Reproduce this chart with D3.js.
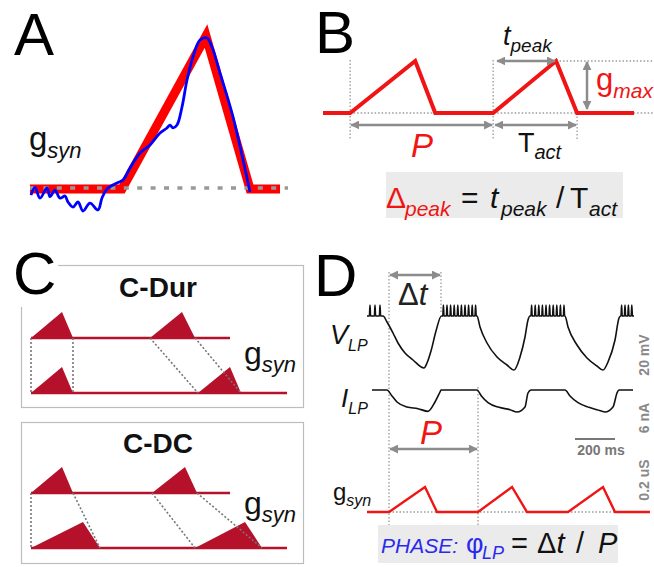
<!DOCTYPE html>
<html>
<head>
<meta charset="utf-8">
<script src="https://cdn.jsdelivr.net/npm/d3@7"></script>
<style>
  body { margin: 0; background: #fff; }
  svg { display: block; font-family: "Liberation Sans", Arial, sans-serif; }
</style>
</head>
<body>
<div id="chart"></div>
<script>
// ---------- data ----------
// A: template fit (red) and measured conductance (blue), time in ms, g normalised
const aModelT = [0, 92, 176, 220, 250];
const aModelG = [0, 0, 1, 0, 0];
const aTraceT = [1, 5, 10, 17, 20, 25, 30, 35, 38, 43, 48, 53, 60, 68, 72, 77, 87, 93, 100, 110, 120, 130, 137, 140, 143, 147, 152, 157, 163, 170, 177, 182, 190, 203, 220];
const aTraceG = [-0.04, 0.01, -0.06, 0.007, -0.05, -0.007, -0.06, -0.046, -0.085, -0.118, -0.085, -0.144, -0.092, -0.137, -0.059, 0.0, 0.039, 0.059, 0.137, 0.235, 0.288, 0.366, 0.399, 0.418, 0.399, 0.418, 0.536, 0.712, 0.863, 0.974, 0.987, 0.928, 0.758, 0.471, -0.02];
const aBaseT = [0, 258];

// B: periodic triangular conductance (ms, normalised)
const bT = [-190, 0, 455, 595, 1000, 1440, 1587, 1985];
const bG = [0, 0, 1, 0, 0, 1, 0, 0];
const bOnset1 = 0, bOnset2 = 1000, bPeak2 = 1440, bEnd2 = 1587;

// C: [onset, peak, offset] of each g_syn waveform, row line ends
const cDurTop = [[0, 31, 42], [119, 151, 164]];
const cDurBottom = [[0, 31, 42], [167, 199, 210]];
const cDcTop = [[0, 31, 42], [121, 154, 166]];
const cDcBottom = [[0, 52, 69], [164, 214, 231]];
const cRowEnd = [199, 256];

// D: LP membrane potential (ms, mV)
const vT = [0, 80, 100, 130, 155, 190, 230, 285, 300, 320, 345, 372, 550, 565, 600, 650, 700, 735, 765, 790, 805, 815, 990, 1005, 1050, 1100, 1150, 1180, 1205, 1240, 1260, 1268, 1335];
const vV = [-45, -45, -48, -53.5, -58.5, -63.5, -67, -71, -68.5, -62.5, -52.5, -45, -45, -50.5, -58.5, -65.5, -69.5, -72, -65.5, -55.5, -47, -45, -45, -50.5, -59.5, -66, -70, -72, -68, -57, -46, -45, -45];
const vSpikeT = [15, 40, 65, 382, 400, 418, 436, 454, 472, 490, 508, 526, 543, 823, 841, 859, 877, 895, 913, 931, 949, 967, 985, 1273, 1290, 1307, 1324];
const vSpikePeak = -39.5;
// D: LP current (ms, nA)
const iT = [25, 100, 125, 150, 200, 255, 305, 340, 365, 370, 550, 572, 605, 660, 715, 750, 790, 805, 820, 990, 1015, 1055, 1110, 1150, 1190, 1230, 1250, 1260, 1330];
const iI = [0, 0, -0.9, -1.8, -2.55, -2.8, -3.2, -1.8, -0.3, 0, 0, -0.9, -1.9, -2.6, -2.95, -3.3, -2.55, -0.45, 0, 0, -0.9, -1.9, -2.6, -2.95, -3.3, -2.55, -0.45, 0, 0];
// D: injected g_syn (ms, uS)
const dGT = [0, 110, 290, 350, 555, 725, 800, 1005, 1180, 1240, 1415];
const dGG = [0, 0, 0.125, 0, 0, 0.125, 0, 0, 0.125, 0, 0];
const dOnset = 110, dBurst = 370, dNext = 555;
const scaleBarT = [1040, 1240];

// ---------- helpers ----------
const RED = "#f01414", DARKRED = "#b5112b", GREY = "#8c8c8c", DOT = "#9a9a9a";
const svg = d3.select("#chart").append("svg").attr("width", 654).attr("height", 567);

svg.append("defs").append("marker")
  .attr("id", "arr").attr("viewBox", "0 0 10 10")
  .attr("refX", 9).attr("refY", 5)
  .attr("markerWidth", 9).attr("markerHeight", 9)
  .attr("markerUnits", "userSpaceOnUse").attr("orient", "auto-start-reverse")
  .append("path").attr("d", "M0,0L10,5L0,10z").attr("fill", GREY);

function arrow(g, x1, y1, x2, y2) {
  g.append("line")
    .attr("x1", x1).attr("y1", y1).attr("x2", x2).attr("y2", y2)
    .attr("stroke", GREY).attr("stroke-width", 2.5)
    .attr("marker-start", "url(#arr)").attr("marker-end", "url(#arr)");
}
function dotted(g, x1, y1, x2, y2) {
  g.append("line")
    .attr("x1", x1).attr("y1", y1).attr("x2", x2).attr("y2", y2)
    .attr("stroke", DOT).attr("stroke-width", 1.3).attr("stroke-dasharray", "1.5,2");
}
// main symbol + subscript
function symbol(g, x, y, main, sub, size, subSize, color, mainItalic) {
  const t = g.append("text").attr("x", x).attr("y", y).attr("fill", color || "#111");
  t.append("tspan").attr("font-size", size).attr("font-style", mainItalic ? "italic" : "normal").text(main);
  t.append("tspan").attr("font-size", subSize).attr("font-style", "italic").attr("dy", size * 0.25).text(sub);
  return t;
}
function panelLetter(x, y, s) {
  svg.append("text").attr("x", x).attr("y", y).attr("font-size", 60).attr("fill", "#000").text(s);
}

// ---------- panel A ----------
const gA = svg.append("g");
const aX = d3.scaleLinear().domain([0, 250]).range([30, 280]);
const aY = d3.scaleLinear().domain([0, 1]).range([189, 36]);
const aLine = d3.line().x(d => aX(d[0])).y(d => aY(d[1]));
gA.append("path").datum(d3.zip(aModelT, aModelG)).attr("d", aLine)
  .attr("fill", "none").attr("stroke", "#ff0000").attr("stroke-width", 9).attr("stroke-linejoin", "miter");
gA.append("line").attr("x1", aX(aBaseT[0])).attr("x2", aX(aBaseT[1]))
  .attr("y1", aY(0) - 1).attr("y2", aY(0) - 1)
  .attr("stroke", "#999").attr("stroke-width", 3.5).attr("stroke-dasharray", "5,8.4");
gA.append("path").datum(d3.zip(aTraceT, aTraceG))
  .attr("d", aLine.curve(d3.curveCatmullRom))
  .attr("fill", "none").attr("stroke", "#0000ff").attr("stroke-width", 2.8);
panelLetter(14, 55, "A");
symbol(gA, 29, 150, "g", "syn", 33, 22);

// ---------- panel B ----------
const gB = svg.append("g");
const bX = d3.scaleLinear().domain([-190, 1985]).range([323, 634]);
const bY = d3.scaleLinear().domain([0, 1]).range([113, 61]);
dotted(gB, bX(bOnset1), 60, bX(bOnset1), 140);
dotted(gB, bX(bOnset2), 60, bX(bOnset2), 140);
dotted(gB, bX(bEnd2), bY(0), bX(bEnd2), 140);
dotted(gB, bX(bOnset1), bY(0), 654, bY(0));
dotted(gB, bX(bPeak2), bY(1), 654, bY(1));
gB.append("path").datum(d3.zip(bT, bG))
  .attr("d", d3.line().x(d => bX(d[0])).y(d => bY(d[1])))
  .attr("fill", "none").attr("stroke", RED).attr("stroke-width", 4).attr("stroke-linejoin", "miter");
arrow(gB, bX(bOnset1) + 1, 125, bX(bOnset2) - 1, 125);
arrow(gB, bX(bOnset2) + 2, 125, bX(bEnd2) - 1, 125);
arrow(gB, bX(bOnset2) + 4, bY(1), bX(bPeak2) - 1, bY(1));
arrow(gB, 587, bY(1) + 1, 587, bY(0) - 4);
panelLetter(315, 53, "B");
symbol(gB, 503, 45, "t", "peak", 27, 19, "#111", true);
symbol(gB, 596, 90, "g", "max", 31, 21, RED);
symbol(gB, 518, 152, "T", "act", 27, 20, "#111");
gB.append("text").attr("x", 422).attr("y", 157).attr("text-anchor", "middle")
  .attr("font-size", 33).attr("font-style", "italic").attr("fill", RED).text("P");
gB.append("rect").attr("x", 386).attr("y", 172).attr("width", 237).attr("height", 46).attr("fill", "#ebebeb");
{
  const t = gB.append("text").attr("y", 208).attr("font-size", 30).attr("fill", "#111");
  t.append("tspan").attr("x", 386).attr("fill", RED).text("\u0394");
  t.append("tspan").attr("x", 405).attr("fill", RED).attr("font-size", 21).attr("font-style", "italic").attr("dy", 8).text("peak");
  t.append("tspan").attr("x", 461).attr("dy", -8).text("=");
  t.append("tspan").attr("x", 490).attr("font-style", "italic").text("t");
  t.append("tspan").attr("x", 501).attr("font-size", 21).attr("font-style", "italic").attr("dy", 8).text("peak");
  t.append("tspan").attr("x", 556).attr("dy", -8).text("/");
  t.append("tspan").attr("x", 570).text("T");
  t.append("tspan").attr("x", 589).attr("font-size", 21).attr("font-style", "italic").attr("dy", 8).text("act");
}

// ---------- panel C ----------
const gC = svg.append("g");
const cX = d3.scaleLinear().domain([0, 256]).range([31, 287]);
const triLine = d3.line();
function drawRow(tris, end, y) {
  gC.append("line").attr("x1", cX(0)).attr("x2", cX(end)).attr("y1", y(0)).attr("y2", y(0))
    .attr("stroke", DARKRED).attr("stroke-width", 2.5);
  tris.forEach(d => {
    gC.append("path")
      .attr("d", triLine([[cX(d[0]), y(0)], [cX(d[1]), y(1)], [cX(d[2]), y(0)]]) + "Z")
      .attr("fill", DARKRED);
  });
}
function connect(top, bottom, yT, yB) {
  top.forEach((d, i) => {
    [0, 2].forEach(k => {
      gC.append("line")
        .attr("x1", cX(d[k])).attr("y1", yT(0)).attr("x2", cX(bottom[i][k])).attr("y2", yB(0))
        .attr("stroke", "#777").attr("stroke-width", 1.6).attr("stroke-dasharray", "2,2");
    });
  });
}
function cPanel(top, bottom, y0, title, titleY, gY) {
  const yT = d3.scaleLinear().domain([0, 1]).range([y0, y0 - 26]);
  const yB = d3.scaleLinear().domain([0, 1]).range([y0 + 55, y0 + 29]);
  drawRow(top, cRowEnd[0], yT);
  drawRow(bottom, cRowEnd[1], yB);
  connect(top, bottom, yT, yB);
  gC.append("text").attr("x", 158).attr("y", titleY).attr("text-anchor", "middle")
    .attr("font-size", 28).attr("font-weight", "bold").attr("fill", "#111").text(title);
  symbol(gC, 244, gY, "g", "syn", 32, 22);
}
gC.append("rect").attr("x", 21.5).attr("y", 265.5).attr("width", 282).attr("height", 142)
  .attr("fill", "none").attr("stroke", "#bdbdbd").attr("stroke-width", 1.2);
gC.append("rect").attr("x", 21.5).attr("y", 422.5).attr("width", 282).attr("height", 141)
  .attr("fill", "none").attr("stroke", "#bdbdbd").attr("stroke-width", 1.2);
gC.append("rect").attr("x", 0).attr("y", 240).attr("width", 58).attr("height", 67).attr("fill", "#fff");
cPanel(cDurTop, cDurBottom, 338, "C-Dur", 297, 364);
cPanel(cDcTop, cDcBottom, 493, "C-DC", 453, 514);
panelLetter(13, 294, "C");

// ---------- panel D ----------
const gD = svg.append("g");
const dX = d3.scaleLinear().domain([0, 1415]).range([367, 650]);
const vY = d3.scaleLinear().domain([-80, -30]).range([386, 286]);
const iY = d3.scaleLinear().domain([-6, 0]).range([430, 390]);
const gY = d3.scaleLinear().domain([0, 0.2]).range([512, 472]);

dotted(gD, dX(dOnset), 272, dX(dOnset), 530);
dotted(gD, dX(dBurst), 272, dX(dBurst), 313);
dotted(gD, dX(dNext), 387, dX(dNext), 530);
dotted(gD, dX(dOnset), gY(0), dX(1385), gY(0));

// voltage with spikes merged in
const vPts = d3.zip(vT, vV);
vSpikeT.forEach(s => { vPts.push([s - 3, -45], [s, vSpikePeak], [s + 3, -45]); });
vPts.sort((a, b) => a[0] - b[0]);
gD.append("path").datum(vPts)
  .attr("d", d3.line().x(d => dX(d[0])).y(d => vY(d[1])).curve(d3.curveMonotoneX))
  .attr("fill", "none").attr("stroke", "#111").attr("stroke-width", 1.6);
gD.append("path").datum(d3.zip(iT, iI))
  .attr("d", d3.line().x(d => dX(d[0])).y(d => iY(d[1])).curve(d3.curveMonotoneX))
  .attr("fill", "none").attr("stroke", "#111").attr("stroke-width", 1.6);
gD.append("path").datum(d3.zip(dGT, dGG))
  .attr("d", d3.line().x(d => dX(d[0])).y(d => gY(d[1])))
  .attr("fill", "none").attr("stroke", RED).attr("stroke-width", 2.4);

arrow(gD, dX(dOnset) + 1, 275, dX(dBurst) - 1, 275);
arrow(gD, dX(dOnset) + 1, 449, dX(dNext) - 1, 449);
gD.append("line").attr("x1", dX(scaleBarT[0])).attr("x2", dX(scaleBarT[1]))
  .attr("y1", 439).attr("y2", 439).attr("stroke", "#777").attr("stroke-width", 2);
gD.append("text").attr("x", 601).attr("y", 455).attr("text-anchor", "middle")
  .attr("font-size", 14).attr("font-weight", "bold").attr("fill", "#777").text("200 ms");
[["20 mV", 355], ["6 nA", 418], ["0.2 uS", 480]].forEach(([s, y]) => {
  gD.append("text").attr("transform", `translate(649,${y}) rotate(-90)`).attr("text-anchor", "middle")
    .attr("font-size", 14).attr("font-weight", "bold").attr("fill", "#888").text(s);
});

panelLetter(314, 296, "D");
{
  const t = gD.append("text").attr("x", 398).attr("y", 305).attr("font-size", 31).attr("fill", "#222");
  t.append("tspan").text("\u0394");
  t.append("tspan").attr("font-style", "italic").text("t");
}
symbol(gD, 330, 344, "V", "LP", 27, 16, "#111", true);
symbol(gD, 341, 407, "I", "LP", 26, 16, "#111", true);
symbol(gD, 333, 500, "g", "syn", 24, 16, "#111");
gD.append("text").attr("x", 431).attr("y", 444).attr("text-anchor", "middle")
  .attr("font-size", 33).attr("font-style", "italic").attr("fill", RED).text("P");

gD.append("rect").attr("x", 378).attr("y", 525).attr("width", 240).attr("height", 38).attr("fill", "#ebebeb");
{
  const t = gD.append("text").attr("y", 553).attr("fill", "#111");
  t.append("tspan").attr("x", 381).attr("font-size", 21).attr("font-style", "italic").attr("fill", "#2a2aee").text("PHASE:");
  t.append("tspan").attr("x", 466).attr("font-size", 27).attr("fill", "#2a2aee").text("\u03c6");
  t.append("tspan").attr("x", 482).attr("font-size", 18).attr("font-style", "italic").attr("fill", "#2a2aee").attr("dy", 6).text("LP");
  t.append("tspan").attr("x", 511).attr("dy", -6).attr("font-size", 29).text("=");
  t.append("tspan").attr("x", 537).attr("font-size", 29).text("\u0394");
  t.append("tspan").attr("font-size", 29).attr("font-style", "italic").text("t");
  t.append("tspan").attr("x", 576).attr("font-size", 29).text("/");
  t.append("tspan").attr("x", 598).attr("font-size", 29).attr("font-style", "italic").text("P");
}
</script>
</body>
</html>
